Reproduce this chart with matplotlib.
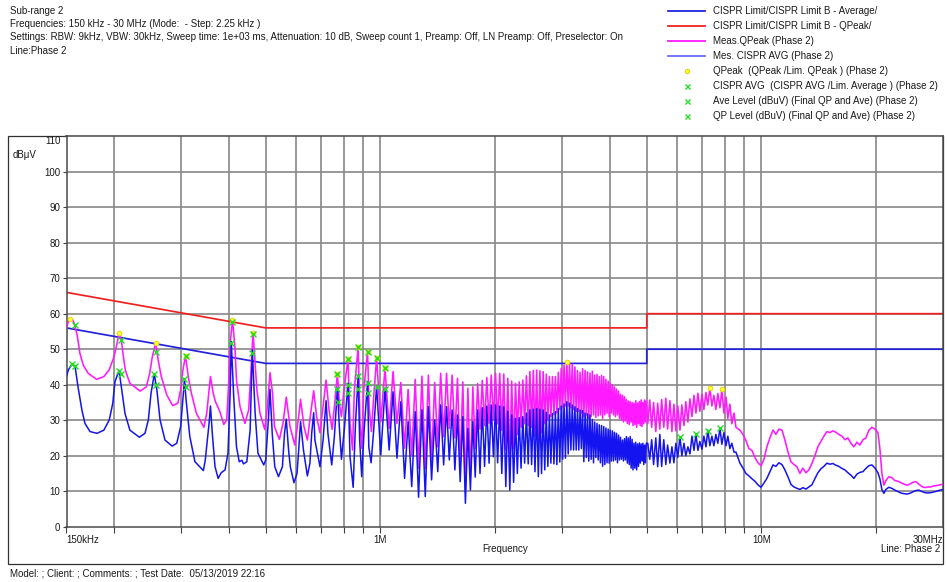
import matplotlib
matplotlib.use("Agg")
import matplotlib.pyplot as plt
from matplotlib.lines import Line2D
from matplotlib.patches import Rectangle
from matplotlib.ticker import NullFormatter
import numpy as np

plt.rcParams['font.family'] = ['Liberation Sans', 'DejaVu Sans']

# ---------------- CISPR 22 class B limits (Hz / dBuV) ----------------
limit_freq = [150e3, 500e3, 5e6, 5e6, 30e6]
limit_qp = [66, 56, 56, 60, 60]
limit_avg = [56, 46, 46, 50, 50]

# ---------------- 150 kHz .. 1 MHz (kHz / dBuV) ----------------
qp_low_khz = [150, 151.4, 153, 156, 157.5, 160, 162.7, 166, 171, 180, 188, 194, 200, 204,
              206, 209, 211, 214, 220, 234, 243, 248, 252,
              257, 261, 266, 275, 285, 294, 300, 303,
              308, 313, 319, 329, 344, 350, 355,
              358, 364, 369, 379, 388, 395, 400, 404,
              409, 415, 419, 428, 441, 451, 457,
              463, 469, 474, 483, 497, 505,
              513, 521, 527, 543, 555,
              566, 579, 596, 610,
              617, 630, 643, 656,
              668, 680, 694, 707,
              720, 733, 747, 760,
              771, 780, 790, 802,
              822, 832, 845, 854,
              874, 884, 893, 904,
              925, 934, 947, 960, 977]
qp_low_db = [55.9, 57.5, 58.4, 58.2, 56.8, 54.0, 48.8, 45.5, 43.2, 41.5, 42.3, 44.1, 47.9, 52.1,
             54.5, 52.5, 48.8, 44.1, 40.4, 38.2, 39.4, 43.2, 47.9,
             51.7, 47.0, 42.3, 37.1, 34.1, 34.8, 39.4, 44.1,
             48.1, 42.3, 37.6, 31.9, 28.0, 31.9, 38.5,
             42.3, 37.6, 35.2, 32.4, 28.8, 30.1, 41.3, 52.6,
             58.2, 50.7, 41.3, 33.8, 29.1, 32.9, 43.2,
             54.6, 46.0, 38.5, 31.9, 27.4, 33.8,
             43.4, 37.6, 28.2, 24.6, 29.1,
             36.5, 28.2, 23.0, 31.0,
             35.9, 28.2, 24.4, 31.9,
             38.3, 31.0, 26.5, 33.8,
             41.3, 32.9, 27.4, 35.7,
             43.0, 34.8, 31.0, 38.5,
             47.2, 29.1, 21.6, 38.5,
             50.7, 29.1, 22.1, 38.5,
             49.3, 33.8, 26.8, 36.6, 47.4]

av_low_khz = [150, 151.6, 155, 158, 160.8, 164.6, 167.7, 172.9, 180.4, 188, 194.3, 198.4, 201,
              206, 209.5, 213.6, 220, 233, 241, 246, 250,
              255, 259, 264, 272, 284, 292, 299, 303,
              306, 309, 316, 326, 343, 347, 355,
              358, 362, 368, 375, 382, 391, 398, 403,
              406, 412, 419, 426, 433, 437, 446, 455,
              461, 469, 477, 494, 500, 508,
              513, 520, 528, 540, 553, 560,
              566, 574, 580, 593, 604, 611,
              617, 628, 643, 653, 660,
              668, 673, 694, 707,
              720, 728, 745, 757,
              771, 780, 790, 805,
              822, 832, 848, 860,
              874, 882, 893, 906,
              925, 932, 945, 960, 977]
av_low_db = [42.3, 44.1, 45.8, 45.1, 39.4, 32.9, 29.1, 26.8, 26.3, 27.2, 30.1, 34.8, 40.8,
             44.0, 38.5, 31.9, 27.2, 25.2, 26.3, 30.1, 37.6,
             43.0, 38.5, 30.1, 24.4, 22.7, 23.5, 28.2, 35.7,
             41.5, 35.7, 25.4, 18.3, 15.8, 18.8, 29.1,
             34.0, 26.3, 16.9, 13.6, 15.2, 16.0, 20.7, 36.6,
             52.1, 36.6, 22.5, 18.3, 18.7, 17.7, 18.3, 27.2,
             49.8, 31.9, 20.7, 17.4, 18.8, 30.1,
             38.7, 26.3, 16.9, 14.1, 16.9, 26.3,
             30.3, 21.6, 16.9, 12.4, 15.0, 22.5,
             29.6, 21.6, 14.3, 17.9, 26.3,
             32.1, 24.4, 16.9, 24.4,
             35.5, 26.3, 17.4, 25.4,
             39.0, 28.2, 19.0, 28.2,
             40.4, 19.7, 11.1, 29.1,
             42.7, 24.4, 14.1, 27.2,
             40.8, 22.5, 18.0, 27.2, 39.6]

# ---------------- 1 .. 5 MHz harmonic comb: valley, peak, valley, peak ... (kHz) ----------------
comb_khz = [1002, 1028, 1054, 1079, 1105, 1131, 1157, 1182, 1208, 1234, 1259, 1285, 1311, 1336,
            1362, 1388, 1414, 1439, 1465, 1491, 1516, 1542, 1568, 1593, 1619, 1645, 1671, 1696,
            1722, 1748, 1773, 1799, 1825, 1850, 1876, 1902, 1928, 1953, 1979, 2005, 2030, 2056,
            2082, 2107, 2133, 2159, 2185, 2210, 2236, 2262, 2287, 2313, 2339, 2364, 2390, 2416,
            2442, 2467, 2493, 2519, 2544, 2570, 2596, 2621, 2647, 2673, 2699, 2724, 2750, 2776,
            2801, 2827, 2853, 2878, 2904, 2930, 2956, 2981, 3007, 3033, 3058, 3084, 3110, 3135,
            3161, 3187, 3213, 3238, 3264, 3290, 3315, 3341, 3367, 3392, 3418, 3444, 3470, 3495,
            3521, 3547, 3572, 3598, 3624, 3649, 3675, 3701, 3727, 3752, 3778, 3804, 3829, 3855,
            3881, 3906, 3932, 3958, 3984, 4009, 4035, 4061, 4086, 4112, 4138, 4163, 4189, 4215,
            4241, 4266, 4292, 4318, 4343, 4369, 4395, 4420, 4446, 4472, 4498, 4523, 4549, 4575,
            4600, 4626, 4652, 4677, 4703, 4729, 4755, 4780, 4806, 4832, 4857, 4883, 4909, 4934,
            4960, 4986]
qp_comb_db = [29.6, 44.6, 27.7, 43.7, 29.1, 40.6, 22.1, 38.7, 20.0, 41.5, 16.4, 42.4, 16.4, 42.7,
              18.3, 40.6, 22.5, 43.2, 25.4, 43.2, 27.7, 42.7, 25.0, 41.8, 16.9, 40.8, 10.5, 39.0,
              14.0, 39.4, 22.0, 40.3, 27.5, 41.2, 28.5, 42.0, 29.1, 42.7, 30.1, 43.2, 29.0, 43.2,
              27.2, 43.0, 21.6, 41.8, 18.3, 41.0, 22.0, 40.4, 26.0, 40.8, 28.0, 41.3, 29.0, 42.5,
              28.5, 43.7, 28.0, 44.0, 25.5, 44.1, 23.5, 43.9, 26.5, 43.7, 29.0, 43.0, 30.0, 42.3,
              31.0, 42.3, 31.5, 42.3, 32.0, 43.5, 33.0, 44.6, 33.5, 45.5, 34.0, 46.5, 34.0, 46.2,
              33.5, 45.7, 33.0, 45.0, 32.5, 44.0, 32.5, 43.5, 32.0, 44.5, 31.0, 44.0, 31.5, 43.6,
              30.5, 43.3, 31.0, 43.8, 31.5, 42.7, 30.8, 42.9, 31.2, 42.3, 31.5, 42.6, 30.5, 42.3,
              31.5, 41.5, 32.0, 41.0, 31.0, 40.4, 32.0, 40.0, 31.5, 39.4, 31.0, 38.8, 31.5, 38.2,
              30.5, 37.3, 30.0, 37.0, 29.5, 36.6, 29.8, 35.8, 29.1, 35.4, 28.8, 35.2, 29.5, 35.0,
              28.5, 34.8, 28.8, 35.5, 28.0, 34.8, 29.0, 35.2, 28.5, 35.7, 28.2, 35.0, 29.0, 35.7,
              29.5, 35.4]
av_comb_db = [20.2, 39.0, 21.6, 38.0, 19.3, 35.2, 13.6, 29.6, 11.3, 32.4, 8.3, 32.9, 8.5, 33.8,
              13.2, 30.1, 15.5, 34.3, 17.4, 33.8, 18.8, 32.9, 16.0, 31.5, 12.7, 31.0, 6.6, 27.7,
              10.3, 29.6, 14.0, 32.9, 15.0, 33.5, 17.0, 34.0, 17.9, 34.3, 19.7, 34.3, 18.0, 34.0,
              15.0, 33.8, 11.3, 32.5, 10.3, 31.5, 12.5, 30.5, 15.0, 30.7, 16.5, 31.0, 17.9, 32.0,
              17.7, 32.9, 17.5, 33.1, 15.5, 33.3, 14.1, 33.1, 15.0, 32.9, 16.0, 32.2, 17.0, 31.5,
              17.9, 31.9, 17.7, 32.4, 17.5, 33.3, 18.2, 34.0, 19.0, 34.6, 19.3, 35.2, 20.5, 34.8,
              21.6, 34.3, 21.6, 33.8, 21.6, 33.3, 21.6, 32.9, 22.0, 32.7, 18.3, 32.0, 19.5, 31.8,
              18.5, 31.5, 19.0, 30.2, 18.0, 29.5, 19.5, 29.1, 18.8, 28.7, 18.0, 28.5, 17.0, 28.2,
              17.5, 27.8, 18.0, 27.5, 17.9, 27.2, 18.5, 27.0, 18.5, 26.6, 18.8, 26.3, 18.0, 25.8,
              18.8, 25.2, 19.0, 24.4, 18.5, 24.8, 18.8, 25.4, 17.9, 25.0, 17.5, 25.4, 16.5, 24.6,
              16.0, 23.5, 16.5, 23.8, 16.0, 23.3, 17.0, 23.6, 17.9, 23.3, 18.5, 23.5, 17.5, 23.0,
              18.0, 23.5]

# ---------------- 5 .. 8.6 MHz dense band (MHz) ----------------
band_mhz = [5.03, 5.09, 5.15, 5.21, 5.28, 5.34, 5.41, 5.47, 5.54, 5.61, 5.67, 5.75, 5.82, 5.89,
            5.96, 6.03, 6.11, 6.18, 6.26, 6.33, 6.41, 6.49, 6.57, 6.65, 6.73, 6.81, 6.89, 6.98,
            7.06, 7.15, 7.23, 7.32, 7.41, 7.50, 7.59, 7.68, 7.78, 7.87, 7.97, 8.07, 8.16, 8.26,
            8.36, 8.47, 8.57]
qp_band_db = [29.0, 35.7, 28.0, 35.0, 26.8, 34.8, 27.5, 35.8, 28.0, 36.2, 27.5, 35.5, 26.8, 34.5,
              27.0, 34.0, 27.2, 34.3, 28.5, 35.2, 29.5, 36.0, 31.0, 37.0, 32.0, 37.6, 32.5, 37.2,
              33.0, 37.8, 34.3, 39.0, 34.0, 37.0, 33.0, 37.5, 33.5, 38.7, 32.0, 36.5, 30.5, 34.5,
              29.0, 32.0, 28.0]
av_band_db = [23.5, 19.0, 24.5, 17.5, 25.0, 16.9, 26.0, 17.0, 24.5, 17.5, 23.0, 17.9, 22.5, 18.0,
              23.5, 19.5, 25.4, 20.0, 23.5, 20.0, 22.5, 20.5, 25.5, 21.5, 26.0, 21.5, 24.0, 21.8,
              25.5, 22.5, 27.2, 22.8, 25.5, 22.8, 26.0, 23.5, 27.7, 23.2, 26.5, 22.8, 25.5, 22.0,
              23.5, 21.0, 21.0]

# ---------------- 8.8 .. 30 MHz (MHz) ----------------
tail_mhz = [8.78, 8.94, 9.10, 9.27, 9.44, 9.61, 9.79, 9.97, 10.15, 10.33, 10.52, 10.72, 10.91,
            11.11, 11.32, 11.52, 11.74, 11.95, 12.17, 12.39, 12.61, 12.84, 13.08, 13.32, 13.56,
            13.81, 14.06, 14.32, 14.58, 14.85, 15.12, 15.39, 15.68, 15.96, 16.26, 16.55, 16.86,
            17.17, 17.48, 17.80, 18.12, 18.46, 18.79, 19.14, 19.49, 19.85, 20.21, 20.45, 20.70,
            20.95, 21.21, 21.59, 21.99, 22.39, 22.80, 23.22, 23.65, 24.08, 24.51, 24.96, 25.42,
            25.88, 26.36, 26.84, 27.33, 27.83, 28.34, 28.86, 29.39, 30.0]
qp_tail_db = [27.2, 26.0, 24.3, 22.0, 21.5, 19.5, 18.0, 17.2, 19.0, 22.5, 25.0, 27.2, 26.0,
              27.5, 27.2, 24.4, 21.0, 18.3, 17.5, 16.9, 15.0, 16.5, 15.2, 16.0, 17.8,
              20.0, 22.5, 24.0, 25.5, 26.8, 26.5, 27.0, 26.6, 26.0, 25.5, 24.5, 25.0,
              23.5, 22.5, 23.8, 23.0, 24.5, 25.0, 27.2, 28.0, 27.5, 26.5, 22.0, 15.0,
              11.7, 13.0, 14.1, 13.8, 13.0, 12.8, 12.4, 12.0, 11.7, 12.0, 12.5, 12.7,
              12.0, 11.3, 11.0, 11.2, 11.2, 11.5, 11.6, 11.8, 12.0]
av_tail_db = [17.9, 16.5, 15.0, 14.3, 13.5, 12.8, 11.8, 11.1, 12.3, 13.6, 15.5, 17.4, 17.0,
              18.0, 17.5, 16.0, 14.0, 11.9, 11.2, 10.8, 10.5, 11.0, 10.6, 11.2, 11.8,
              13.5, 15.2, 16.3, 17.0, 17.9, 17.6, 17.8, 17.3, 17.0, 16.4, 16.0, 15.2,
              14.5, 13.6, 14.8, 15.3, 15.5, 16.4, 17.2, 17.4, 16.5, 15.2, 13.5, 10.5,
              9.4, 10.5, 11.1, 10.8, 10.3, 9.9, 9.5, 9.3, 9.2, 9.4, 9.8, 10.2,
              10.3, 9.9, 9.6, 9.5, 9.6, 9.8, 10.0, 10.3, 10.5]

# ---------------- final measurement markers (kHz / dBuV) ----------------
qpeak_khz = [153, 206, 257, 308, 409, 463, 771, 822, 874, 925, 977, 1028, 3084, 7320, 7870]
qpeak_db = [58.4, 54.5, 51.7, 48.1, 58.2, 54.6, 43.0, 47.2, 50.7, 49.3, 47.4, 44.6, 46.5, 39.0, 38.7]
qp_level_khz = [157.5, 208.6, 258, 308, 409, 463, 771, 822, 874, 925, 977, 1028]
qp_level_db = [56.8, 52.6, 49.3, 48.0, 57.8, 54.3, 43.0, 47.2, 50.7, 49.3, 47.4, 44.6]
cavg_khz = [155, 206, 255, 306, 406, 461, 771, 822, 874, 925, 977, 1028, 6110, 6730, 7230, 7780]
cavg_db = [45.8, 44.0, 43.0, 41.5, 51.7, 49.0, 38.7, 39.9, 42.5, 40.4, 39.4, 38.7, 25.2, 26.0, 27.0, 27.7]
ave_level_khz = [158, 209, 258, 308, 772, 822, 874, 925]
ave_level_db = [45.3, 42.9, 39.9, 39.3, 35.2, 37.7, 38.7, 37.6]

# axis annotation
y_ticks = list(range(0, 111, 10))
x_major = [150e3, 1e6, 10e6, 30e6]
x_major_labels = ['150kHz', '1M', '10M', '30MHz']
x_grid = [2e5, 3e5, 4e5, 5e5, 6e5, 7e5, 8e5, 9e5, 1e6, 2e6, 3e6, 4e6, 5e6, 6e6, 7e6,
          8e6, 9e6, 1e7, 2e7]

header_lines = [
    "Sub-range 2",
    "Frequencies: 150 kHz - 30 MHz (Mode:  - Step: 2.25 kHz )",
    "Settings: RBW: 9kHz, VBW: 30kHz, Sweep time: 1e+03 ms, Attenuation: 10 dB, Sweep count 1, "
    "Preamp: Off, LN Preamp: Off, Preselector: On",
    "Line:Phase 2",
]
legend_labels = [
    "CISPR Limit/CISPR Limit B - Average/",
    "CISPR Limit/CISPR Limit B - QPeak/",
    "Meas.QPeak (Phase 2)",
    "Mes. CISPR AVG (Phase 2)",
    "QPeak  (QPeak /Lim. QPeak ) (Phase 2)",
    "CISPR AVG  (CISPR AVG /Lim. Average ) (Phase 2)",
    "Ave Level (dBuV) (Final QP and Ave) (Phase 2)",
    "QP Level (dBuV) (Final QP and Ave) (Phase 2)",
]
footer = "Model: ; Client: ; Comments: ; Test Date:  05/13/2019 22:16"

# ---------------- styles ----------------
C_AVG_LIM = '#2323dc'
C_QP_LIM = '#ee2222'
C_QP = '#ff1aff'
C_AV = '#1414f0'
C_AV_LEG = '#6b6bff'
C_YEL = '#ffff30'
C_GRN = '#22dd22'
TXT = '#1a1a1a'
FS = 7

W, H = 947, 582
fig = plt.figure(figsize=(W / 100, H / 100), dpi=100)
fig.patch.set_facecolor('white')

# pixel-space overlay for the page furniture
ov = fig.add_axes([0, 0, 1, 1])
ov.set_xlim(0, W)
ov.set_ylim(H, 0)
ov.axis('off')

for i, line in enumerate(header_lines):
    ov.text(10, 11 + 13.2 * i, line, fontsize=FS, color=TXT, va='center', ha='left')

leg_y0, leg_dy = 11, 15
line_styles = [(C_AVG_LIM, 1.3), (C_QP_LIM, 1.3), (C_QP, 1.3), (C_AV_LEG, 1.3)]
for i, lab in enumerate(legend_labels):
    y = leg_y0 + leg_dy * i
    ov.text(713, y, lab, fontsize=FS, color=TXT, va='center', ha='left')
    if i < 4:
        c, lw = line_styles[i]
        ov.add_line(Line2D([668, 705], [y, y], color=c, lw=lw))
    elif i == 4:
        ov.plot([686.5], [y], 'o', ms=3.2, mfc=C_YEL, mec='#d8c800', mew=0.6)
    else:
        ov.plot([686.5], [y], 'x', ms=3.6, color=C_GRN, mew=1.0)

# outer frame
ov.add_patch(Rectangle((8, 136), 943.3 - 8, 564 - 136, fill=False, ec='#303030', lw=0.9))
ov.text(13, 155, "dB\u03bcV", fontsize=FS, color=TXT, va='center', ha='left')
ov.text(505, 549.5, "Frequency", fontsize=FS, color=TXT, va='center', ha='center')
ov.text(940, 549.5, "Line: Phase 2", fontsize=FS, color=TXT, va='center', ha='right')
ov.text(10, 573, footer, fontsize=FS, color=TXT, va='center', ha='left')

# ---------------- main plot ----------------
x0, x1, yt, yb = 66.5, 943.3, 136.2, 526.7
ax = fig.add_axes([x0 / W, (H - yb) / H, (x1 - x0) / W, (yb - yt) / H])
ax.set_facecolor('white')
ax.set_xscale('log')
ax.set_xlim(150e3, 30e6)
ax.set_ylim(0, 110)
ax.set_axisbelow(True)

for f in x_grid:
    ax.axvline(f, color='#878787', lw=1.2, zorder=0.5)
for v in y_ticks[1:-1]:
    ax.axhline(v, color='#878787', lw=1.2, zorder=0.5)

ax.set_xticks(x_major)
ax.set_xticklabels(x_major_labels)
ax.set_xticks(x_grid, minor=True)
ax.xaxis.set_minor_formatter(NullFormatter())
ax.tick_params(axis='x', which='both', direction='out', length=4, width=0.8,
               color='#404040', pad=2, labelsize=FS, labelcolor=TXT)
xl = ax.get_xticklabels()
xl[0].set_ha('left')
xl[-1].set_ha('right')

ax.set_yticks(y_ticks)
ax.set_yticklabels([str(v) for v in y_ticks])
ax.tick_params(axis='y', direction='out', length=3, width=0.8, color='#404040',
               pad=1.5, labelsize=FS, labelcolor=TXT)
ax.get_yticklabels()[-1].set_va('top')

for s in ax.spines.values():
    s.set_color('#4a4a4a')
    s.set_linewidth(1.1)

# limits
ax.plot(limit_freq, limit_avg, color=C_AVG_LIM, lw=1.25, zorder=2)
ax.plot(limit_freq, limit_qp, color=C_QP_LIM, lw=1.25, zorder=2)

# measured traces
qp_f = np.concatenate([np.array(qp_low_khz) * 1e3, np.array(comb_khz) * 1e3,
                       np.array(band_mhz) * 1e6, np.array(tail_mhz) * 1e6])
qp_v = np.concatenate([qp_low_db, qp_comb_db, qp_band_db, qp_tail_db])
av_f = np.concatenate([np.array(av_low_khz) * 1e3, np.array(comb_khz) * 1e3,
                       np.array(band_mhz) * 1e6, np.array(tail_mhz) * 1e6])
av_v = np.concatenate([av_low_db, av_comb_db, av_band_db, av_tail_db])

ax.plot(qp_f, qp_v, color=C_QP, lw=1.15, zorder=3)
ax.plot(av_f, av_v, color=C_AV, lw=1.1, zorder=4)

# markers
ax.plot(np.array(qpeak_khz) * 1e3, qpeak_db, 'o', ms=3.4, mfc=C_YEL, mec='#e0d000',
        mew=0.6, zorder=5, ls='none')
ax.plot(np.array(qp_level_khz) * 1e3, qp_level_db, 'x', ms=3.8, color=C_GRN, mew=1.0,
        zorder=6, ls='none')
ax.plot(np.array(cavg_khz) * 1e3, cavg_db, 'x', ms=3.8, color=C_GRN, mew=1.0,
        zorder=6, ls='none')
ax.plot(np.array(ave_level_khz) * 1e3, ave_level_db, 'x', ms=3.8, color=C_GRN, mew=1.0,
        zorder=6, ls='none')

fig.savefig('out.png', dpi=100, facecolor='white')
